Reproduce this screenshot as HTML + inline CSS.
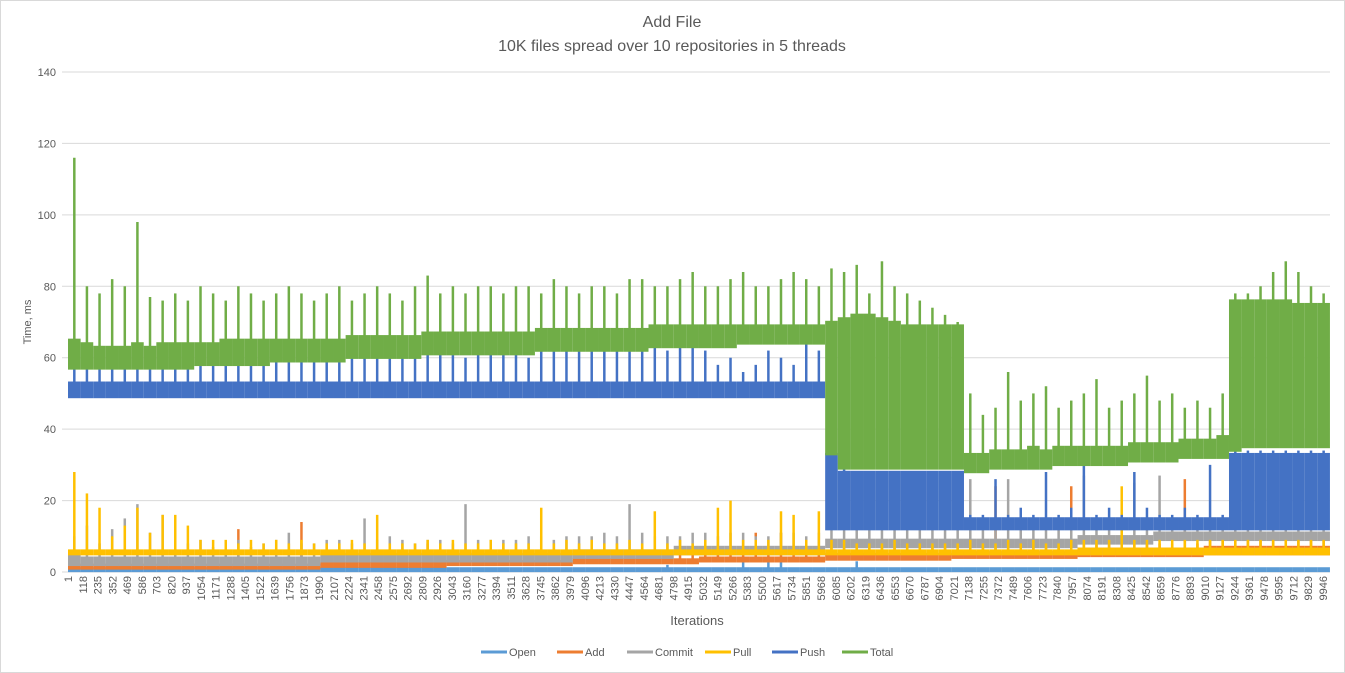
<!DOCTYPE html>
<html><head><meta charset="utf-8"><style>
body{margin:0;background:#fff;}
svg{display:block;font-family:"Liberation Sans",sans-serif;}
</style></head><body>
<svg id="chart" width="1345" height="673" viewBox="0 0 1345 673" xmlns="http://www.w3.org/2000/svg">
<rect x="0.5" y="0.5" width="1344" height="672" fill="#fff" stroke="#d9d9d9"/>
<text x="672" y="27" text-anchor="middle" font-size="16" fill="#595959">Add File</text>
<text x="672" y="51" text-anchor="middle" font-size="16" fill="#595959">10K files spread over 10 repositories in 5 threads</text>
<text transform="translate(31,322) rotate(-90)" text-anchor="middle" font-size="11" fill="#595959">Time, ms</text>
<text x="697" y="625" text-anchor="middle" font-size="13" fill="#595959">Iterations</text>
<g id="grid"></g><g id="yt"></g><g id="xt"></g><g id="series"></g><g id="legend"></g>
</svg>
<script>
const yTicks=[0,20,40,60,80,100,120,140];
const seriesNames=["Open","Add","Commit","Pull","Push","Total"];
const colors=["#5B9BD5","#ED7D31","#A5A5A5","#FFC000","#4472C4","#70AD47"];
const binSize=100;
// Total
const totalBase=[65,64,63,63,63,64,63,64,64,64,64,64,65,65,65,65,65,65,65,65,65,65,66,66,66,66,66,66,67,67,67,67,67,67,67,67,67,68,68,68,68,68,68,68,68,68,69,69,69,69,69,69,69,69,69,69,69,69,69,69,
70,71,72,72,71,70,69,69,69,69,69,
33,33,34,34,34,35,34,35,35,35,35,35,35,36,36,36,36,37,37,37,38,
76,76,76,76,76,75,75,75];
const totalLo=[57,57,57,57,57,57,57,57,57,57,58,58,58,58,58,58,59,59,59,59,59,59,60,60,60,60,60,60,61,61,61,61,61,61,61,61,61,62,62,62,62,62,62,62,62,62,63,63,63,63,63,63,63,64,64,64,64,64,64,64,
33,29,29,29,29,29,29,29,29,29,29,
28,28,29,29,29,29,29,30,30,30,30,30,30,31,31,31,31,32,32,32,32,
34,35,35,35,35,35,35,35];
const totalHi=[116,80,78,82,80,98,77,76,78,76,80,78,76,80,78,76,78,80,78,76,78,80,76,78,80,78,76,80,83,78,80,78,80,80,78,80,80,78,82,80,78,80,80,78,82,82,80,80,82,84,80,80,82,84,80,80,82,84,82,80,
85,84,86,78,87,80,78,76,74,72,70,
50,44,46,56,48,50,52,46,48,50,54,46,48,50,55,48,50,46,48,46,50,
78,78,80,84,87,84,80,78];
// Push
const pushBase=[53,53,53,53,53,53,53,53,53,53,53,53,53,53,53,53,53,53,53,53,53,53,53,53,53,53,53,53,53,53,53,53,53,53,53,53,53,53,53,53,53,53,53,53,53,53,53,53,53,53,53,53,53,53,53,53,53,53,53,53,
33,28,28,28,28,28,28,28,28,28,28,
15,15,15,15,15,15,15,15,15,15,15,15,15,15,15,15,15,15,15,15,15,
33,33,33,33,33,33,33,33];
const pushLo=[49,49,49,49,49,49,49,49,49,49,49,49,49,49,49,49,49,49,49,49,49,49,49,49,49,49,49,49,49,49,49,49,49,49,49,49,49,49,49,49,49,49,49,49,49,49,49,49,49,49,49,49,49,49,49,49,49,49,49,49,
12,12,12,12,12,12,12,12,12,12,12,
12,12,12,12,12,12,12,12,12,12,12,12,12,12,12,12,12,12,12,12,12,
12,12,12,12,12,12,12,12];
const pushHi=[62,60,58,60,62,60,58,60,62,60,60,62,60,58,60,62,60,60,62,60,62,60,62,60,62,62,60,62,64,62,62,60,62,64,62,62,60,62,64,62,62,64,62,64,62,64,64,62,64,64,62,58,60,56,58,62,60,58,66,62,
33,30,28,28,28,28,28,28,28,28,28,
16,16,26,16,18,16,28,16,18,30,16,18,16,28,18,16,16,18,16,30,16,
34,34,34,34,34,34,34,34];
// Commit
const commitBase=[5,4,4,4,4,4,4,4,4,4,4,4,4,4,4,4,4,4,4,4,5,5,5,5,5,5,5,5,5,5,5,5,5,5,5,5,5,5,5,5,6,6,6,6,6,6,6,6,7,7,7,7,7,7,7,7,7,7,7,7,
9,9,9,9,9,9,9,9,9,9,9,9,9,9,9,9,9,9,9,9,10,10,10,10,10,10,11,11,11,11,11,11,11,11,11,11,11,11,11,11];
const commitLo=[2,2,2,2,2,2,2,2,2,2,2,2,2,2,2,2,2,2,2,2,3,3,3,3,3,3,3,3,3,3,3,3,3,3,3,3,3,3,3,3,4,4,4,4,4,4,4,4,5,5,5,5,5,5,5,5,5,5,5,5,
7,7,7,7,7,7,7,7,7,7,7,7,7,7,7,7,7,7,7,7,8,8,8,8,8,8,9,9,9,9,9,9,9,9,9,9,9,9,9,9];
const commitHi=[10,13,8,12,15,19,11,16,9,8,9,7,8,9,7,8,9,11,8,8,9,9,8,15,9,10,9,8,9,9,8,19,9,9,9,9,10,10,9,10,10,10,11,10,19,11,10,10,10,11,11,10,11,11,10,10,11,11,10,11,
13,13,12,12,12,13,12,12,12,13,12,26,12,12,26,12,12,13,12,12,27,12,12,13,25,13,27,13,13,13,13,13,13,13,13,13,13,13,13,13];
// Pull
const pullBase=[6,6,6,6,6,6,6,6,6,6,6,6,6,6,6,6,6,6,6,6,6,6,6,6,6,6,6,6,6,6,6,6,6,6,6,6,6,6,6,6,6,6,6,6,6,6,6,6,6,6,6,6,6,6,6,6,6,6,6,6,
6,6,6,6,6,6,6,6,6,6,6,6,6,6,6,6,6,6,6,6,6.5,6.5,6.5,6.5,6.5,6.5,6.5,6.5,6.5,6.5,6.5,6.5,6.5,6.5,6.5,6.5,6.5,6.5,6.5,6.5];
const pullLo=[5,5,5,5,5,5,5,5,5,5,5,5,5,5,5,5,5,5,5,5,5,5,5,5,5,5,5,5,5,5,5,5,5,5,5,5,5,5,5,5,5,5,5,5,5,5,5,5,5,5,5,5,5,5,5,5,5,5,5,5,
5,5,5,5,5,5,5,5,5,5,5,5,5,5,5,5,5,5,5,5,5,5,5,5,5,5,5,5,5,5,5,5,5,5,5,5,5,5,5,5];
const pullHi=[28,22,18,10,13,18,11,16,16,13,9,9,9,8,9,8,9,8,9,8,8,8,9,8,16,8,8,8,9,8,9,8,8,9,8,8,8,18,8,9,8,9,8,8,9,8,17,8,9,8,9,18,20,9,9,9,17,16,9,17,
9,9,8,8,8,9,8,8,8,8,8,9,8,8,9,8,9,8,8,9,9,9,9,24,9,9,9,9,9,9,9,9,9,9,9,9,9,9,9,9];
// Add
const addBase=[2,2,2,2,2,2,2,2,2,2,2,2,2,2,2,2,2,2,2,2,2.5,2.5,2.5,2.5,2.5,2.5,2.5,2.5,2.5,2.5,3,3,3,3,3,3,3,3,3,3,3.5,3.5,3.5,3.5,3.5,3.5,3.5,3.5,3.5,3.5,4,4,4,4,4,4,4,4,4,4,
5,5,5,5,5,5,5,5,5,5,5.5,5.5,5.5,5.5,5.5,5.5,5.5,5.5,5.5,5.5,6.5,6.5,6.5,6.5,6.5,6.5,6.5,6.5,6.5,6.5,7,7,7,7,7,7,7,7,7,7];
const addLo=[1,1,1,1,1,1,1,1,1,1,1,1,1,1,1,1,1,1,1,1,1.5,1.5,1.5,1.5,1.5,1.5,1.5,1.5,1.5,1.5,2,2,2,2,2,2,2,2,2,2,2.5,2.5,2.5,2.5,2.5,2.5,2.5,2.5,2.5,2.5,3,3,3,3,3,3,3,3,3,3,
3.5,3.5,3.5,3.5,3.5,3.5,3.5,3.5,3.5,3.5,4,4,4,4,4,4,4,4,4,4,4.5,4.5,4.5,4.5,4.5,4.5,4.5,4.5,4.5,4.5,5,5,5,5,5,5,5,5,5,5];
const addHi=[3,3,3,3,3,3,3,3,3,3,3,3,3,12,3,3,3,3,14,3,3,3,3,3,3,3,3,3,8,3,4,4,4,4,4,4,4,4,4,4,5,5,5,5,5,5,5,5,5,5,6,6,6,6,11,6,11,6,6,6,
7,7,7,7,7,7,7,7,7,7,7,7,7,24,7,7,7,7,7,24,8,8,8,8,8,8,8,8,26,8,9,9,9,9,9,9,9,9,9,9];
// Open
const openBase=[1,1,1,1,1,1,1,1,1,1,1,1,1,1,1,1,1,1,1,1,1,1,1,1,1,1,1,1,1,1,1,1,1,1,1,1,1,1,1,1,1,1,1,1,1,1,1,1,1,1,1,1,1,1,1,1,1,1,1,1,1,1,1,1,1,1,1,1,1,1,1,1,1,1,1,1,1,1,1,1,1,1,1,1,1,1,1,1,1,1,1,1,1,1,1,1,1,1,1,1];
const openLo=[0.3,0.3,0.3,0.3,0.3,0.3,0.3,0.3,0.3,0.3,0.3,0.3,0.3,0.3,0.3,0.3,0.3,0.3,0.3,0.3,0.3,0.3,0.3,0.3,0.3,0.3,0.3,0.3,0.3,0.3,0.3,0.3,0.3,0.3,0.3,0.3,0.3,0.3,0.3,0.3,0.3,0.3,0.3,0.3,0.3,0.3,0.3,0.3,0.3,0.3,0.3,0.3,0.3,0.3,0.3,0.3,0.3,0.3,0.3,0.3,0.3,0.3,0.3,0.3,0.3,0.3,0.3,0.3,0.3,0.3,0.3,0.3,0.3,0.3,0.3,0.3,0.3,0.3,0.3,0.3,0.3,0.3,0.3,0.3,0.3,0.3,0.3,0.3,0.3,0.3,0.3,0.3,0.3,0.3,0.3,0.3,0.3,0.3,0.3,0.3];
const openHi=[1,1,1,1,1,1,1,1,1,1,1,1,1,1,3,1,1,1,2,1,1,1,1,1,1,1,1,1,1,1,1,1,1,1,1,1,1,1,1,1,1,1,1,1,1,1,1,2,1,1,1,1,1,3,1,4,3,1,1,1,1,1,3,1,1,1,1,1,1,1,1,1,1,1,1,1,1,1,1,1,1,1,1,1,1,1,1,1,1,1,1,1,1,1,1,1,1,1,1,1];
const xLabels=[];for(let i=1;i<=10000;i+=117)xLabels.push(String(i));

const NS="http://www.w3.org/2000/svg";
const X0=62,X1=1330,Y0=572,Y1=72;
const xS=i=>68+(i-1)*(1255/9945);
const yS=v=>Y0-(v/140)*(Y0-Y1);
function mk(t,a,p){const e=document.createElementNS(NS,t);for(const k in a)e.setAttribute(k,a[k]);p.appendChild(e);return e;}
const grid=document.getElementById('grid'),yt=document.getElementById('yt'),xt=document.getElementById('xt');
yTicks.forEach(v=>{
 const l=mk('line',{x1:X0,x2:X1,y1:yS(v),y2:yS(v),stroke:'#d9d9d9','stroke-width':1},grid);
 
 
 const t=mk('text',{x:56,y:yS(v)+4,'text-anchor':'end','font-size':11,fill:'#595959'},yt);
 t.textContent=v;
 
 
});
xLabels.forEach(s=>{
 const x=xS(+s);
 const t=mk('text',{transform:`translate(${x+4},576) rotate(-90)`,'text-anchor':'end','font-size':11,fill:'#595959'},xt);
 t.textContent=s;
 
 
});
const data=[[openBase,openLo,openHi],[addBase,addLo,addHi],[commitBase,commitLo,commitHi],[pullBase,pullLo,pullHi],[pushBase,pushLo,pushHi],[totalBase,totalLo,totalHi]];
const sg=document.getElementById('series');
data.forEach((d,s)=>{
 const g=mk('g',{},sg);
 
 
 const [b,lo,hi]=d;
 for(let k=0;k<b.length;k++){
  const xa=xS(k*binSize+1),xb=Math.min(xS(k*binSize+binSize+1),1331);
  const top=yS(b[k])-1.2,bot=yS(lo[k])+1.2;
  const r=mk('rect',{x:xa,y:top,width:xb-xa,height:bot-top,fill:colors[s]},g);
  
  
  if(hi[k]>b[k]){
   const xm=(xa+xb)/2;
   const l=mk('line',{x1:xm,x2:xm,y1:yS(b[k]),y2:yS(hi[k]),stroke:colors[s],'stroke-width':2.5},g);
   
   
  }
 }
});
const lg=document.getElementById('legend');
const lx=[481,557,627,705,772,842];
seriesNames.forEach((n,i)=>{
 const g=mk('g',{},lg);
 
 
 mk('line',{x1:lx[i],x2:lx[i]+26,y1:652,y2:652,stroke:colors[i],'stroke-width':3},g);
 const t=mk('text',{x:lx[i]+28,y:656,'font-size':11,fill:'#595959'},g);
 t.textContent=n;
});
</script>
</body></html>
